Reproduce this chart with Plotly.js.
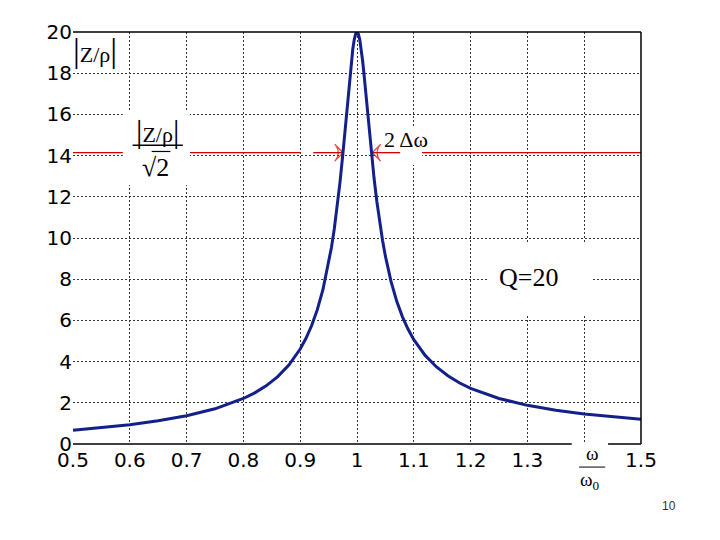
<!DOCTYPE html>
<html>
<head>
<meta charset="utf-8">
<script src="https://cdn.plot.ly/plotly-3.0.1.min.js"></script>
<style>html,body{margin:0;padding:0;background:#fff;}#chart{width:720px;height:540px;}</style>
</head>
<body>
<div id="chart"></div>
<script>
// Resonance curve |Z/rho| vs omega/omega0 (Q = 20)
var omegaRatio = [0.5, 0.55, 0.6, 0.65, 0.7, 0.75, 0.8, 0.82, 0.84, 0.86, 0.88, 0.9, 0.91, 0.92, 0.93, 0.94, 0.95, 0.955, 0.96, 0.965, 0.97, 0.975, 0.98, 0.985, 0.9875, 0.99, 0.9925, 0.995, 0.9975, 1.0, 1.0025, 1.005, 1.0075, 1.01, 1.0125, 1.015, 1.02, 1.025, 1.03, 1.035, 1.04, 1.045, 1.05, 1.06, 1.07, 1.08, 1.09, 1.1, 1.12, 1.14, 1.16, 1.18, 1.2, 1.25, 1.3, 1.35, 1.4, 1.45, 1.5];
var zRatio = [0.666, 0.788, 0.936, 1.124, 1.369, 1.708, 2.209, 2.484, 2.825, 3.258, 3.828, 4.609, 5.118, 5.738, 6.509, 7.488, 8.760, 9.541, 10.44, 11.49, 12.69, 14.05, 15.56, 17.12, 17.87, 18.56, 19.15, 19.61, 19.90, 20.0, 19.90, 19.61, 19.16, 18.58, 17.91, 17.18, 15.68, 14.23, 12.91, 11.76, 10.75, 9.875, 9.118, 7.882, 6.927, 6.173, 5.566, 5.067, 4.300, 3.738, 3.310, 2.974, 2.702, 2.209, 1.876, 1.636, 1.454, 1.312, 1.198];

// half-power level line (|Z/rho| / sqrt(2)) with gaps for the labels
var halfPowerLevel = 14.142;
var halfPowerX = [0.5, 0.5877, null, 0.7058, 0.901, null, 1.1145, 1.5];
// arrows pointing at the half-power points (tail, tip)
var arrowX = [0.923, 0.9757, null, 1.076, 1.0268];

var xTickVals = [0.5, 0.6, 0.7, 0.8, 0.9, 1.0, 1.1, 1.2, 1.3, 1.4, 1.5];
var xTickText = ['0.5', '0.6', '0.7', '0.8', '0.9', '1', '1.1', '1.2', '1.3', '', '1.5'];
var xGridVals = [0.6, 0.7, 0.8, 0.9, 1.0, 1.1, 1.2, 1.3, 1.4];
var yTickVals = [0, 2, 4, 6, 8, 10, 12, 14, 16, 18, 20];
var yGridVals = [2, 4, 6, 8, 10, 12, 14, 16, 18];

var serif = 'Liberation Serif, Times New Roman, serif';
var sans = 'DejaVu Sans, Arial, sans-serif';
var bar = function (s) { return "<span style='font-size:" + s + "px'>|</span>"; };
var red = '#d40000';

var traces = [
  {x: halfPowerX, y: halfPowerX.map(function (v) { return v === null ? null : halfPowerLevel; }),
    mode: 'lines', line: {color: red, width: 1.3}, hoverinfo: 'skip', connectgaps: false},
  {x: arrowX, y: arrowX.map(function (v) { return v === null ? null : halfPowerLevel; }),
    mode: 'lines+markers', line: {color: red, width: 1.3}, hoverinfo: 'skip', connectgaps: false,
    marker: {symbol: 'arrow-wide-open', angleref: 'previous', size: [0, 12, 0, 0, 12], color: red, line: {color: red, width: 1.3}}},
  {x: omegaRatio, y: zRatio, mode: 'lines', line: {color: '#14208a', width: 3}, hoverinfo: 'skip'}
];

var gridStyle = {showgrid: true, gridcolor: '#333', gridwidth: 1, griddash: '2px,2px', ticks: ''};

var layout = {
  width: 720, height: 540,
  margin: {l: 73, r: 79, t: 32, b: 96},
  paper_bgcolor: '#fff', plot_bgcolor: '#fff',
  showlegend: false,
  xaxis: {range: [0.5, 1.5], tickmode: 'array', tickvals: xTickVals, ticktext: xTickText,
    showgrid: false, zeroline: false, showline: false, ticks: '', ticklabelstandoff: 2,
    tickfont: {family: sans, size: 20, color: '#000'},
    minor: Object.assign({tickmode: 'array', tickvals: xGridVals}, gridStyle)},
  yaxis: {range: [0, 20], tickmode: 'array', tickvals: yTickVals,
    showgrid: false, zeroline: false, showline: false, ticks: '', ticklabelstandoff: 0,
    tickfont: {family: sans, size: 20, color: '#000'},
    minor: Object.assign({tickmode: 'array', tickvals: yGridVals}, gridStyle)},
  shapes: [
    // white label boxes hiding grid lines
    {type: 'rect', layer: 'between', xref: 'x', yref: 'y', x0: 0.5877, x1: 0.7058, y0: 12.57, y1: 16.12, fillcolor: '#fff', line: {width: 0}},
    {type: 'rect', layer: 'between', xref: 'x', yref: 'y', x0: 1.037, x1: 1.115, y0: 13.54, y1: 15.34, fillcolor: '#fff', line: {width: 0}},
    {type: 'rect', layer: 'between', xref: 'x', yref: 'y', x0: 1.2314, x1: 1.4148, y0: 6.21, y1: 9.81, fillcolor: '#fff', line: {width: 0}},
    {type: 'rect', layer: 'between', xref: 'paper', yref: 'paper', x0: 0.878, x1: 0.942, y0: -0.14, y1: 0.018, fillcolor: '#fff', line: {width: 0}},
    // frame: top, right, bottom (with gap)
    {type: 'line', layer: 'above', xref: 'paper', yref: 'paper', x0: 0, x1: 1, y0: 1, y1: 1, line: {color: '#000', width: 1.5}},
    {type: 'line', layer: 'above', xref: 'paper', yref: 'paper', x0: 1, x1: 1, y0: 0, y1: 1, line: {color: '#000', width: 1.5}},
    {type: 'line', layer: 'above', xref: 'paper', yref: 'paper', x0: 0, x1: 0.878, y0: 0, y1: 0, line: {color: '#000', width: 1.5}},
    {type: 'line', layer: 'above', xref: 'paper', yref: 'paper', x0: 0.942, x1: 1, y0: 0, y1: 0, line: {color: '#000', width: 1.5}},
    // fraction bar of |Z/rho| / sqrt2 and overline of the root
    {type: 'line', layer: 'above', xref: 'x', yref: 'y', x0: 0.605, x1: 0.6935, y0: 14.5, y1: 14.5, line: {color: '#000', width: 1.5}},
    {type: 'line', layer: 'above', xref: 'x', yref: 'y', x0: 0.6385, x1: 0.6715, y0: 14.2, y1: 14.2, line: {color: '#000', width: 1.2}},
    // fraction bar of omega/omega0
    {type: 'line', layer: 'above', xref: 'paper', yref: 'paper', x0: 0.891, x1: 0.937, y0: -0.056, y1: -0.056, line: {color: '#000', width: 1}}
  ],
  annotations: [
    {xref: 'paper', yref: 'paper', x: -0.003, y: 1.005, xanchor: 'left', yanchor: 'top', showarrow: false,
      text: bar(34) + 'Z/ρ' + bar(34), font: {family: serif, size: 22, color: '#000'}},
    {xref: 'x', yref: 'y', x: 0.6496, y: 15.19, showarrow: false,
      text: bar(32) + 'Z/ρ' + bar(32), font: {family: serif, size: 22, color: '#000'}},
    {xref: 'x', yref: 'y', x: 0.646, y: 13.4, showarrow: false,
      text: '√2', font: {family: serif, size: 26, color: '#000'}},
    {xref: 'x', yref: 'y', x: 1.087, y: 14.76, showarrow: false,
      text: '2 Δω', font: {family: serif, size: 22, color: '#000'}},
    {xref: 'x', yref: 'y', x: 1.3016, y: 8.06, showarrow: false,
      text: 'Q=20', font: {family: serif, size: 26, color: '#000'}},
    {xref: 'paper', yref: 'paper', x: 0.912, y: -0.027, xshift: 10, yshift: -11, showarrow: false,
      text: 'ω', font: {family: serif, size: 19, color: '#000'}},
    {xref: 'paper', yref: 'paper', x: 0.914, y: -0.1, xshift: 10, yshift: -10, showarrow: false,
      text: 'ω<sub>0</sub>', font: {family: serif, size: 19, color: '#000'}},
    {xref: 'paper', yref: 'paper', x: 1.0476, y: -0.148, xshift: 10, yshift: -10, showarrow: false,
      text: '10', font: {family: 'Liberation Sans, Arial, sans-serif', size: 12, color: '#333'}}
  ]
};

Plotly.newPlot('chart', traces, layout, {staticPlot: true, displayModeBar: false});
</script>
</body>
</html>
